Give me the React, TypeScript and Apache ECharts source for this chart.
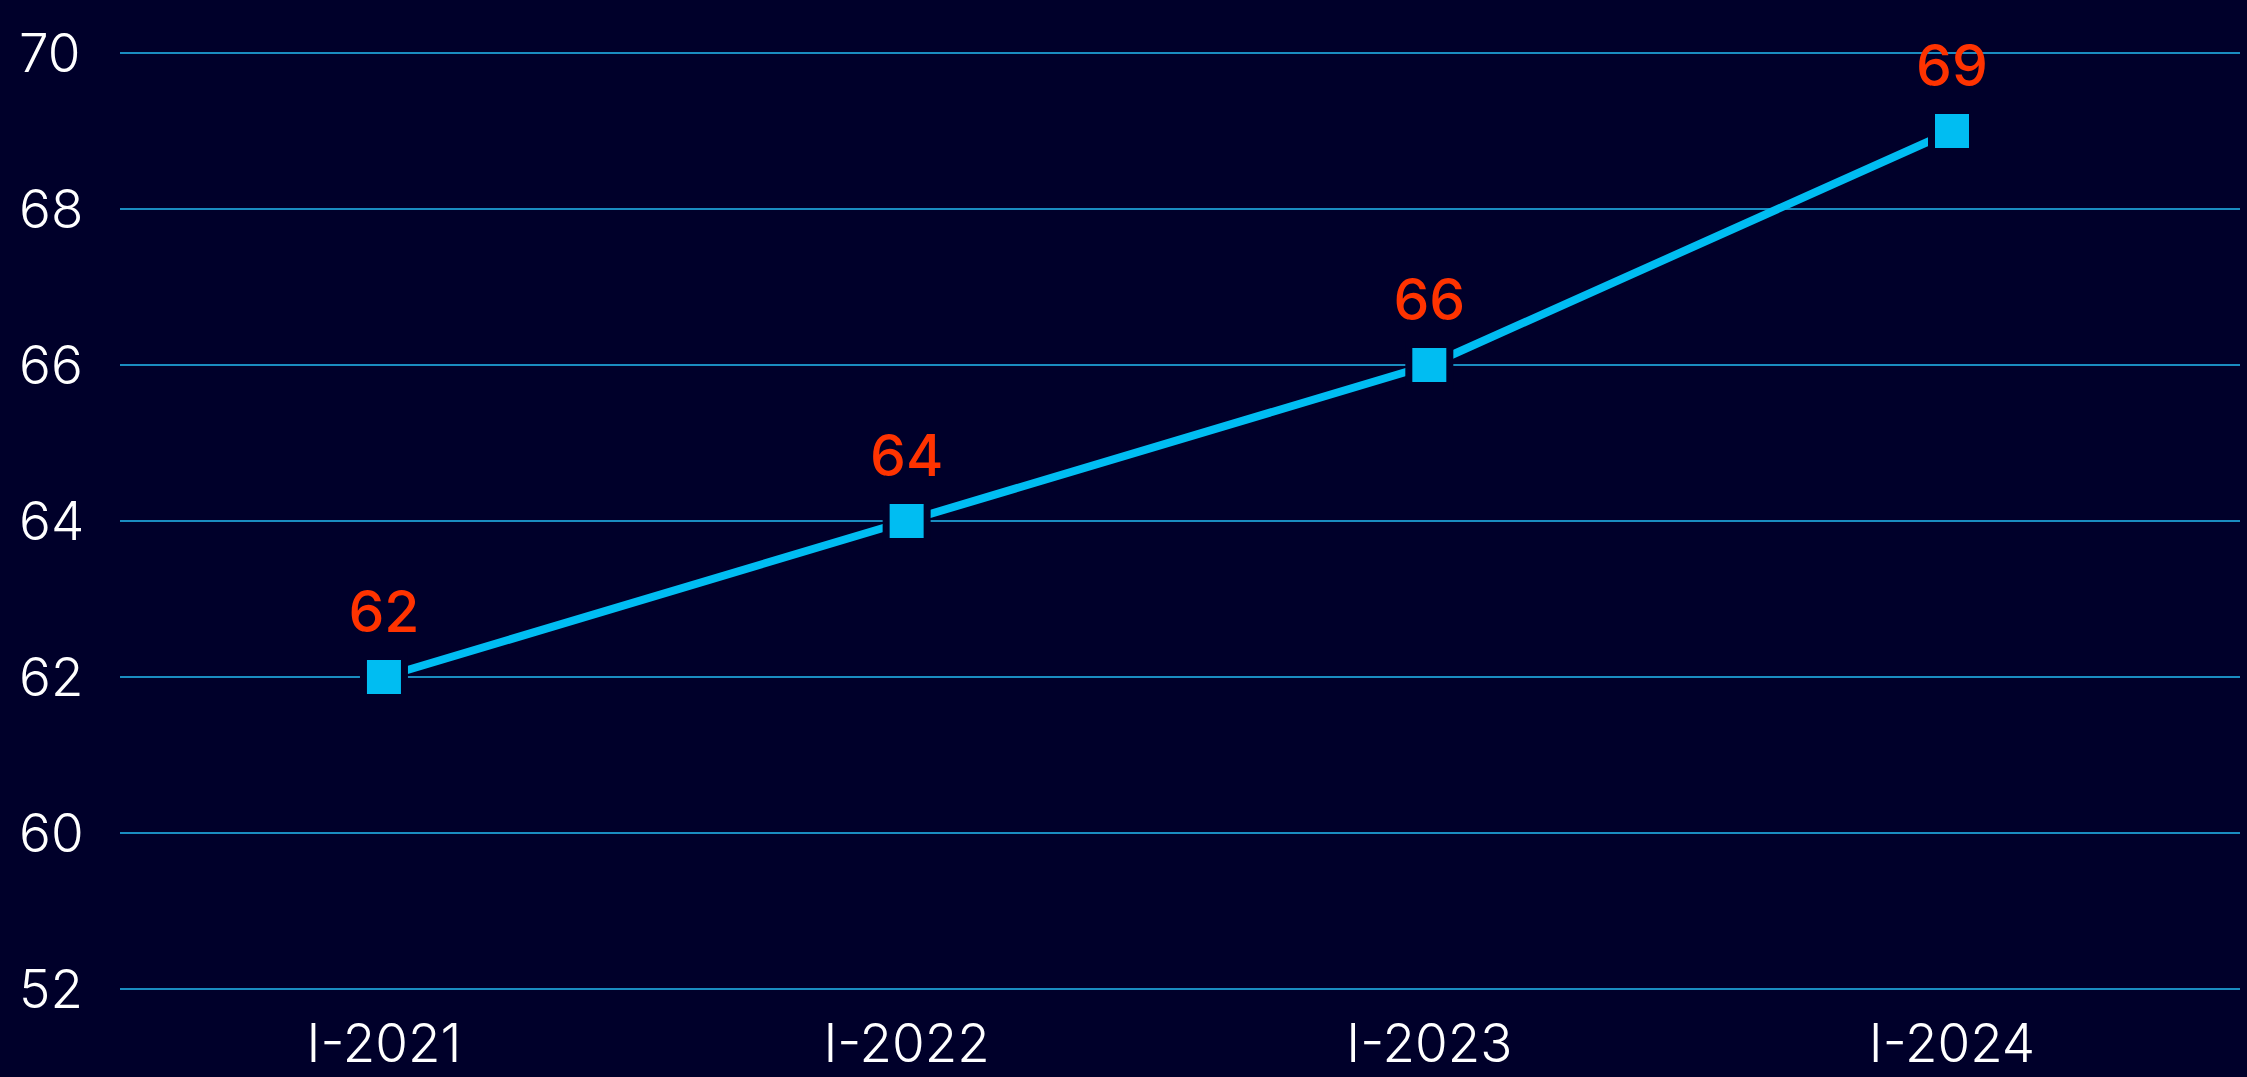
import React, { useEffect, useRef } from "react";
import * as echarts from "echarts";

const categories = ["I-2021", "I-2022", "I-2023", "I-2024"];
const values = [62, 64, 66, 69];
const categoryIndex = [0, 1, 2, 3];
// y tick values (axis is broken: the bottom tick shows 52)
const yTickLabels: Record<number, string> = {
  58: "52",
  60: "60",
  62: "62",
  64: "64",
  66: "66",
  68: "68",
  70: "70",
};

const BG = "#00002a";

export default function App() {
  const ref = useRef<HTMLDivElement>(null);
  useEffect(() => {
    if (!ref.current) return;
    const chart = echarts.init(ref.current, null, { renderer: "svg" });
    chart.setOption({
      animation: false,
      backgroundColor: BG,
      grid: { left: 120, right: 7, top: 53, bottom: 88, containLabel: false },
      xAxis: {
        type: "value",
        min: -0.505,
        max: 3.551,
        axisLine: { show: false },
        axisTick: { show: false },
        splitLine: { show: false },
        axisLabel: {
          customValues: categoryIndex,
          formatter: (v: number) => categories[Math.round(v)] ?? "",
          color: "#ffffff",
          fontFamily: "Inter",
          fontWeight: 300,
          fontSize: 53,
          margin: 27,
        },
      },
      yAxis: {
        type: "value",
        min: 58,
        max: 70,
        interval: 2,
        axisLine: { show: false },
        axisTick: { show: false },
        splitLine: { show: true, lineStyle: { color: "#1a8cc0", width: 2 } },
        axisLabel: {
          formatter: (v: number) => yTickLabels[v] ?? "",
          color: "#ffffff",
          fontFamily: "Inter",
          fontWeight: 300,
          fontSize: 53,
          align: "left",
          margin: 101,
        },
      },
      series: [
        {
          type: "line",
          data: values.map((v, i) => [categoryIndex[i], v]),
          symbol: "rect",
          symbolSize: 41,
          lineStyle: { color: "#00bdf2", width: 8 },
          itemStyle: { color: "#00bdf2", borderColor: BG, borderWidth: 7 },
          label: {
            show: true,
            position: "top",
            distance: 13,
            color: "#ff3300",
            fontFamily: "Inter",
            fontWeight: 500,
            fontSize: 57,
            formatter: (p: any) => String(p.value[1]),
          },
        },
      ],
    });
    return () => chart.dispose();
  }, []);
  return (
    <div
      ref={ref}
      style={{ position: "fixed", left: 0, top: 0, width: 2247, height: 1077 }}
    />
  );
}
